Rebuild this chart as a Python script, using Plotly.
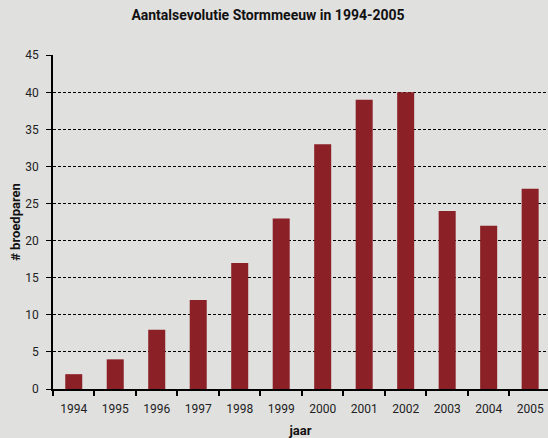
import plotly.graph_objects as go

years = ["1994", "1995", "1996", "1997", "1998", "1999", "2000", "2001", "2002", "2003", "2004", "2005"]
pairs = [2, 4, 8, 12, 17, 23, 33, 39, 40, 24, 22, 27]
y_ticks = [0, 5, 10, 15, 20, 25, 30, 35, 40, 45]

fig = go.Figure(go.Bar(x=years, y=pairs, marker=dict(color="#8b2027", line=dict(width=0))))

bg = "#e0e0df"
fig.update_layout(
    width=548, height=438,
    paper_bgcolor=bg, plot_bgcolor=bg,
    margin=dict(l=53, r=0, t=55, b=49, autoexpand=False),
    bargap=0.59,
    showlegend=False,
    title=dict(text="<b>Aantalsevolutie Stormmeeuw in 1994-2005</b>",
               x=268/548, xanchor="center", y=1-15/438, yanchor="middle",
               font=dict(family="Liberation Sans Narrow, Roboto, Arial", size=14, color="#111")),
    font=dict(family="Roboto, Arial", size=12, color="#222"),
)
fig.update_xaxes(
    type="category", range=[-0.5, 11.43], automargin=False,
    showline=True, linecolor="black", linewidth=1.5,
    ticks="outside", tickson="boundaries", ticklen=5, tickcolor="black", tickwidth=1.5,
    showgrid=False, ticklabelstandoff=8,
    tickfont=dict(family="Roboto, Arial", size=12, color="#222"),
    title=dict(text="<b>jaar</b>", standoff=12,
               font=dict(family="Liberation Sans Narrow, Roboto, Arial", size=13, color="#111")),
)
fig.update_yaxes(
    range=[0, 45.03], tickvals=y_ticks, automargin=False,
    showline=True, linecolor="black", linewidth=1.5,
    ticks="outside", ticklen=5, tickcolor="black", tickwidth=1,
    showgrid=True, gridcolor="black", gridwidth=1, griddash="3px,2px",
    zeroline=False, ticklabelstandoff=5,
    tickfont=dict(family="Roboto, Arial", size=12, color="#222"),
    title=dict(text="<b># broedparen</b>", standoff=2,
               font=dict(family="Liberation Sans Narrow, Roboto, Arial", size=13, color="#111")),
)

fig.write_html("out.html", config={"displayModeBar": False},
               post_script="document.body.style.margin='0';document.body.style.background='#e0e0df';")
